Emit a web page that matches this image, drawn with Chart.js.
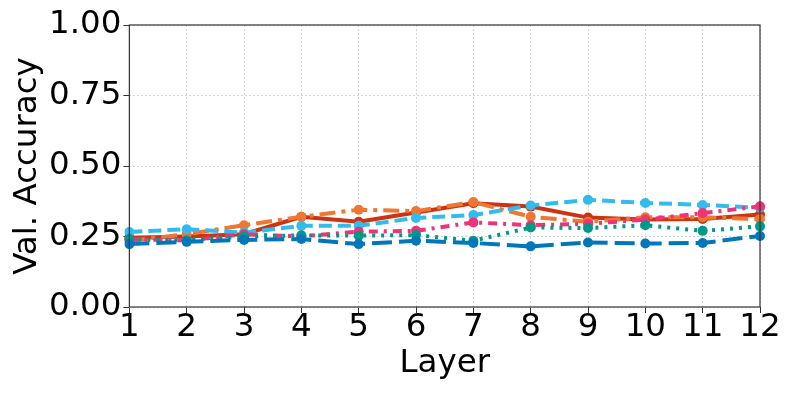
<!DOCTYPE html>
<html>
<head>
<meta charset="utf-8">
<script src="https://cdn.jsdelivr.net/npm/chart.js@4"></script>
<style>
  html, body { margin: 0; padding: 0; background: #fff; }
  #wrap { width: 793px; height: 397px; }
</style>
</head>
<body>
<div id="wrap"><canvas id="chart"></canvas></div>
<script>
const layers = ['1', '2', '3', '4', '5', '6', '7', '8', '9', '10', '11', '12'];
const yTicks = [0, 0.25, 0.5, 0.75, 1];

const blueVals = [0.223, 0.231, 0.238, 0.241, 0.223, 0.235, 0.227, 0.215, 0.229, 0.225, 0.227, 0.252];
const cyanVals = [0.266, 0.276, 0.264, 0.288, 0.288, 0.316, 0.326, 0.360, 0.380, 0.369, 0.362, 0.352];
const tealVals = [0.240, 0.236, 0.250, 0.254, 0.253, 0.255, 0.235, 0.282, 0.280, 0.290, 0.270, 0.286];
const orangeVals = [0.235, 0.258, 0.290, 0.320, 0.345, 0.340, 0.372, 0.320, 0.302, 0.318, 0.318, 0.312];
const redVals = [0.246, 0.250, 0.258, 0.320, 0.302, 0.335, 0.368, 0.356, 0.317, 0.310, 0.312, 0.328];
const magentaVals = [0.240, 0.236, 0.258, 0.250, 0.267, 0.270, 0.300, 0.290, 0.295, 0.310, 0.333, 0.357];

const fontBig = { family: 'DejaVu Sans', size: 32.5 };

function series(label, data, color, dash) {
  return {
    label: label,
    data: data,
    borderColor: color,
    backgroundColor: color,
    pointBackgroundColor: color,
    pointBorderColor: color,
    borderWidth: 4,
    borderDash: dash,
    pointRadius: 5,
    pointBorderWidth: 0,
    tension: 0,
    fill: false
  };
}

// box around the plot area, like matplotlib spines
const frame = {
  id: 'frame',
  afterDraw(chart) {
    const a = chart.chartArea;
    const ctx = chart.ctx;
    ctx.save();
    ctx.strokeStyle = '#333';
    ctx.lineWidth = 1.2;
    ctx.strokeRect(a.left, a.top, a.right - a.left, a.bottom - a.top);
    ctx.restore();
  }
};

new Chart(document.getElementById('chart'), {
  type: 'line',
  data: {
    labels: layers,
    datasets: [
      series('blue', blueVals, '#0077BB', [20, 7]),
      series('teal', tealVals, '#009988', [3, 6]),
      series('magenta', magentaVals, '#EE3377', [9, 6, 3, 6]),
      series('cyan', cyanVals, '#33BBEE', [13, 6]),
      series('orange', orangeVals, '#EE7733', [16, 6, 4, 6]),
      series('red', redVals, '#CC3311', [])
    ]
  },
  options: {
    responsive: true,
    maintainAspectRatio: false,
    animation: false,
    layout: { padding: { left: 8, right: 33, top: 25, bottom: 14 } },
    plugins: { legend: { display: false }, tooltip: { enabled: false } },
    scales: {
      x: {
        type: 'category',
        offset: false,
        grid: { color: '#d6d6d6', tickColor: '#333', tickLength: 6 },
        border: { display: false, dash: [2, 2] },
        ticks: { color: '#000', font: fontBig, padding: -5, maxRotation: 0, autoSkip: false },
        title: { display: true, text: 'Layer', color: '#000', font: fontBig, padding: { top: 2, bottom: 0 } }
      },
      y: {
        min: 0,
        max: 1,
        afterBuildTicks(axis) { axis.ticks = yTicks.map(v => ({ value: v })); },
        grid: { color: '#d6d6d6', tickColor: '#333', tickLength: 6 },
        border: { display: false, dash: [2, 2] },
        ticks: { color: '#000', font: fontBig, padding: 2, callback: v => v.toFixed(2) },
        title: { display: true, text: 'Val. Accuracy', color: '#000', font: fontBig, padding: { top: 0, bottom: 0 } }
      }
    }
  },
  plugins: [frame]
});
</script>
</body>
</html>
